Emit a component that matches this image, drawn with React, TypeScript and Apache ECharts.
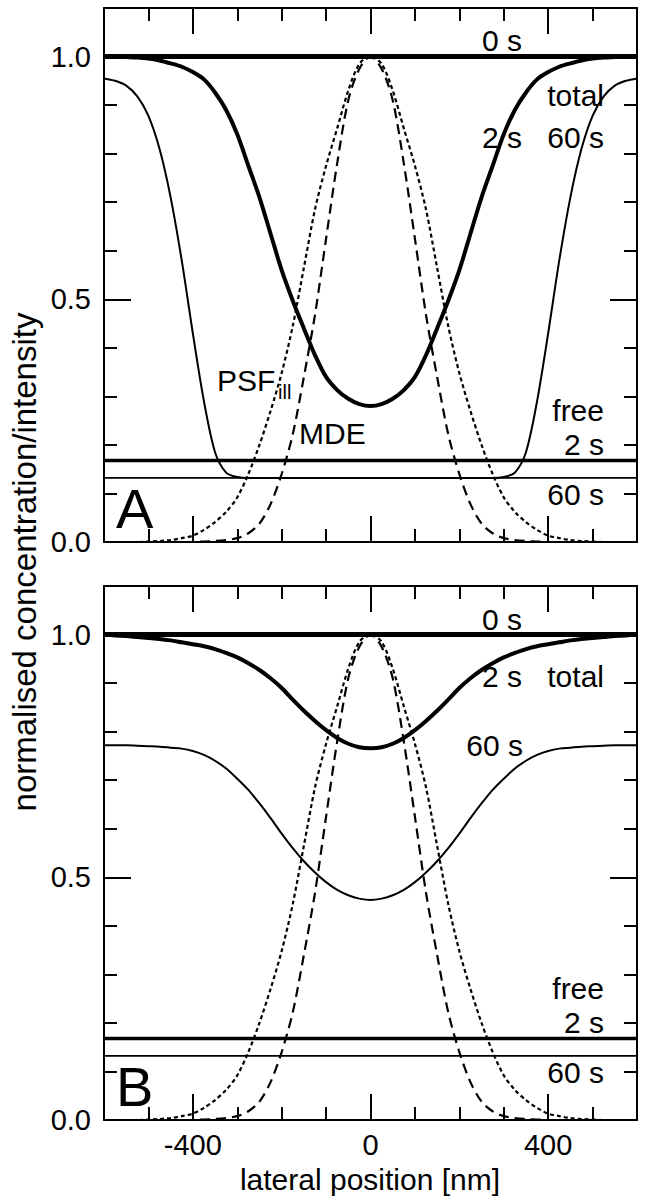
import React, { useEffect, useRef } from 'react';
import * as echarts from 'echarts';

// lateral position [nm] sampling of the curves
const POSITIONS = [
  -600, -575, -550, -525, -500, -475, -450, -425, -400, -375, -350, -325, -300, -275, -250, -225, -200, -175, -150, -125, -100, -75, -50, -25,
  0, 25, 50, 75, 100, 125, 150, 175, 200, 225, 250, 275, 300, 325, 350, 375, 400, 425, 450, 475, 500, 525, 550, 575, 600,
];

// Panel A: total concentration after 2 s (thick) and 60 s (thin)
const A_TOTAL_2S = [
  1.0, 1.0, 0.999, 0.998, 0.996, 0.992, 0.986, 0.979, 0.968, 0.953, 0.926, 0.89, 0.84, 0.775, 0.71, 0.635, 0.56, 0.497, 0.44, 0.385, 0.34, 0.313, 0.295, 0.284,
  0.28, 0.284, 0.295, 0.313, 0.34, 0.385, 0.44, 0.497, 0.56, 0.635, 0.71, 0.775, 0.84, 0.89, 0.926, 0.953, 0.968, 0.979, 0.986, 0.992, 0.996, 0.998, 0.999, 1.0, 1.0,
];
const A_TOTAL_60S = [
  0.955, 0.95, 0.94, 0.918, 0.878, 0.81, 0.71, 0.58, 0.43, 0.29, 0.185, 0.143, 0.134, 0.132, 0.132, 0.132, 0.132, 0.132, 0.132, 0.132, 0.132, 0.132, 0.132, 0.132,
  0.132, 0.132, 0.132, 0.132, 0.132, 0.132, 0.132, 0.132, 0.132, 0.132, 0.132, 0.132, 0.134, 0.143, 0.185, 0.29, 0.43, 0.58, 0.71, 0.81, 0.878, 0.918, 0.94, 0.95, 0.955,
];

// Panel B: total concentration after 2 s (thick) and 60 s (thin)
const B_TOTAL_2S = [
  1.0, 0.998, 0.997, 0.995, 0.993, 0.991, 0.988, 0.984, 0.98, 0.976, 0.97, 0.962, 0.953, 0.941, 0.927, 0.91, 0.89, 0.866, 0.843, 0.822, 0.803, 0.787, 0.775, 0.768,
  0.766, 0.768, 0.775, 0.787, 0.803, 0.822, 0.843, 0.866, 0.89, 0.91, 0.927, 0.941, 0.953, 0.962, 0.97, 0.976, 0.98, 0.984, 0.988, 0.991, 0.993, 0.995, 0.997, 0.998, 1.0,
];
const B_TOTAL_60S = [
  0.772, 0.772, 0.772, 0.771, 0.77, 0.769, 0.767, 0.765, 0.76, 0.752, 0.74, 0.724, 0.703, 0.68, 0.652, 0.622, 0.59, 0.56, 0.533, 0.51, 0.49, 0.474, 0.463, 0.456,
  0.453, 0.456, 0.463, 0.474, 0.49, 0.51, 0.533, 0.56, 0.59, 0.622, 0.652, 0.68, 0.703, 0.724, 0.74, 0.752, 0.76, 0.765, 0.767, 0.769, 0.77, 0.771, 0.772, 0.772, 0.772,
];

// Illumination PSF (dotted) and molecule detection efficiency (dashed), same in both panels
const PSF_ILL = [
  0, 0, 0, 0, 0.001, 0.002, 0.004, 0.008, 0.013, 0.025, 0.041, 0.062, 0.092, 0.14, 0.2, 0.27, 0.348, 0.445, 0.565, 0.685, 0.775, 0.852, 0.93, 0.985,
  1.0, 0.985, 0.93, 0.852, 0.775, 0.685, 0.565, 0.445, 0.348, 0.27, 0.2, 0.14, 0.092, 0.062, 0.041, 0.025, 0.013, 0.008, 0.004, 0.002, 0.001, 0, 0, 0, 0,
];
const MDE = [
  0, 0, 0, 0, 0, 0, 0, 0, 0, 0.001, 0.002, 0.004, 0.008, 0.018, 0.038, 0.078, 0.14, 0.222, 0.34, 0.468, 0.625, 0.78, 0.91, 0.975,
  1.0, 0.975, 0.91, 0.78, 0.625, 0.468, 0.34, 0.222, 0.14, 0.078, 0.038, 0.018, 0.008, 0.004, 0.002, 0.001, 0, 0, 0, 0, 0, 0, 0, 0, 0,
];

// Horizontal levels
const LEVEL_0S = 1.0;
const FREE_2S = 0.168;
const FREE_60S = 0.132;

// Axes
const X_MIN = -600;
const X_MAX = 600;
const X_MAJOR = [-400, 0, 400];
const X_MINOR = [-500, -300, -200, -100, 100, 200, 300, 500];
const X_LABELS = [-400, 0, 400];
const Y_MIN = 0;
const Y_MAX = 1.1;
const Y_MAJOR = [0, 0.5, 1.0];
const Y_MINOR = [0.1, 0.2, 0.3, 0.4, 0.6, 0.7, 0.8, 0.9];
const Y_LABELS = [0, 0.5, 1.0];

const FONT = '"Liberation Sans", Arial, Helvetica, sans-serif';
const BLACK = '#000';

const GRID_LEFT = 104;
const GRID_WIDTH = 533;
const GRID_HEIGHT = 534;
const GRID_TOPS = [8, 586];

function xAxes(g: number, showLabels: boolean) {
  const base = { type: 'value', gridIndex: g, min: X_MIN, max: X_MAX, interval: 100, splitLine: { show: false } };
  const tick = (vals: number[], len: number) => ({ show: true, inside: true, length: len, customValues: vals, lineStyle: { color: BLACK, width: 2 } });
  return [
    {
      ...base, position: 'bottom',
      axisLine: { show: true, onZero: false, lineStyle: { color: BLACK, width: 2 } },
      axisTick: tick(X_MAJOR, 26),
      axisLabel: { show: showLabels, customValues: X_LABELS, color: BLACK, fontSize: 29, fontFamily: FONT, margin: 10 },
    },
    { ...base, position: 'bottom', axisLine: { show: false, onZero: false }, axisTick: tick(X_MINOR, 13), axisLabel: { show: false } },
    {
      ...base, position: 'top',
      axisLine: { show: true, onZero: false, lineStyle: { color: BLACK, width: 2 } },
      axisTick: tick(X_MAJOR, 26), axisLabel: { show: false },
    },
    { ...base, position: 'top', axisLine: { show: false, onZero: false }, axisTick: tick(X_MINOR, 13), axisLabel: { show: false } },
  ];
}

function yAxes(g: number) {
  const base = { type: 'value', gridIndex: g, min: Y_MIN, max: Y_MAX, interval: 0.1, splitLine: { show: false } };
  const tick = (vals: number[], len: number) => ({ show: true, inside: true, length: len, customValues: vals, lineStyle: { color: BLACK, width: 2 } });
  return [
    {
      ...base, position: 'left',
      axisLine: { show: true, onZero: false, lineStyle: { color: BLACK, width: 2 } },
      axisTick: tick(Y_MAJOR, 27),
      axisLabel: { show: true, customValues: Y_LABELS, color: BLACK, fontSize: 29, fontFamily: FONT, margin: 13, formatter: (v: number) => v.toFixed(1) },
    },
    { ...base, position: 'left', axisLine: { show: false, onZero: false }, axisTick: tick(Y_MINOR, 13), axisLabel: { show: false } },
    {
      ...base, position: 'right',
      axisLine: { show: true, onZero: false, lineStyle: { color: BLACK, width: 2 } },
      axisTick: tick(Y_MAJOR, 27), axisLabel: { show: false },
    },
    { ...base, position: 'right', axisLine: { show: false, onZero: false }, axisTick: tick(Y_MINOR, 13), axisLabel: { show: false } },
  ];
}

function pairs(ys: number[]) {
  return POSITIONS.map((x, i) => [x, ys[i]]);
}
function level(v: number) {
  return [[X_MIN, v], [X_MAX, v]];
}

function panelSeries(g: number, total2: number[], total60: number[]) {
  const ax = g * 4;
  const common = { type: 'line', xAxisIndex: ax, yAxisIndex: ax, showSymbol: false, symbol: 'none', silent: true };
  return [
    { ...common, name: 'PSF_ill', data: pairs(PSF_ILL), smooth: 0.3, lineStyle: { color: BLACK, width: 2.2, type: [4, 3] } },
    { ...common, name: 'MDE', data: pairs(MDE), smooth: 0.3, lineStyle: { color: BLACK, width: 2.2, type: [10, 6] } },
    { ...common, name: 'free 60 s', data: level(FREE_60S), lineStyle: { color: BLACK, width: 1.8 } },
    { ...common, name: 'free 2 s', data: level(FREE_2S), lineStyle: { color: BLACK, width: 3.5 } },
    { ...common, name: 'total 60 s', data: pairs(total60), smooth: 0.3, lineStyle: { color: BLACK, width: 2 } },
    { ...common, name: 'total 2 s', data: pairs(total2), smooth: 0.3, lineStyle: { color: BLACK, width: 4 } },
    { ...common, name: '0 s', data: level(LEVEL_0S), lineStyle: { color: BLACK, width: 5 } },
  ];
}

function txt(text: string, x: number, y: number, size: number, align: string = 'left') {
  return {
    type: 'text', x, y, silent: true,
    style: { text, fill: BLACK, fontSize: size, fontFamily: FONT, textAlign: align, textVerticalAlign: 'middle' },
  };
}

const OFF = GRID_TOPS[1] - GRID_TOPS[0];
const T = 30;

export default function App() {
  const ref = useRef<HTMLDivElement>(null);
  useEffect(() => {
    const chart = echarts.init(ref.current!, null, { renderer: 'svg' });
    const option: any = {
      animation: false,
      backgroundColor: '#fff',
      grid: GRID_TOPS.map((top) => ({ left: GRID_LEFT, top, width: GRID_WIDTH, height: GRID_HEIGHT, containLabel: false })),
      xAxis: [...xAxes(0, false), ...xAxes(1, true)],
      yAxis: [...yAxes(0), ...yAxes(1)],
      series: [...panelSeries(0, A_TOTAL_2S, A_TOTAL_60S), ...panelSeries(1, B_TOTAL_2S, B_TOTAL_60S)],
      graphic: [
        // Panel A
        txt('0 s', 502, 40, T, 'center'),
        txt('total', 604, 95, T, 'right'),
        txt('2 s', 502, 137, T, 'center'),
        txt('60 s', 604, 137, T, 'right'),
        txt('PSF', 217, 380, T, 'left'),
        txt('ill', 278, 392, 20, 'left'),
        txt('MDE', 299, 433, T, 'left'),
        txt('free', 604, 410, T, 'right'),
        txt('2 s', 604, 444, T, 'right'),
        txt('60 s', 604, 494, T, 'right'),
        txt('A', 116, 508, 56, 'left'),
        // Panel B
        txt('0 s', 502, 619, T, 'center'),
        txt('2 s', 502, 676, T, 'center'),
        txt('total', 604, 676, T, 'right'),
        txt('60 s', 523, 745, T, 'right'),
        txt('free', 604, 410 + OFF, T, 'right'),
        txt('2 s', 604, 444 + OFF, T, 'right'),
        txt('60 s', 604, 494 + OFF, T, 'right'),
        txt('B', 116, 508 + OFF, 56, 'left'),
        // Axis titles
        txt('lateral position [nm]', 370, 1179, 30, 'center'),
        { ...txt('normalised concentration/intensity', 0, 0, 33, 'center'), x: 24, y: 562, rotation: Math.PI / 2 },
      ],
    };
    chart.setOption(option);
    return () => chart.dispose();
  }, []);
  return <div ref={ref} style={{ position: 'absolute', left: 0, top: 0, width: 646, height: 1200, background: '#fff' }} />;
}
